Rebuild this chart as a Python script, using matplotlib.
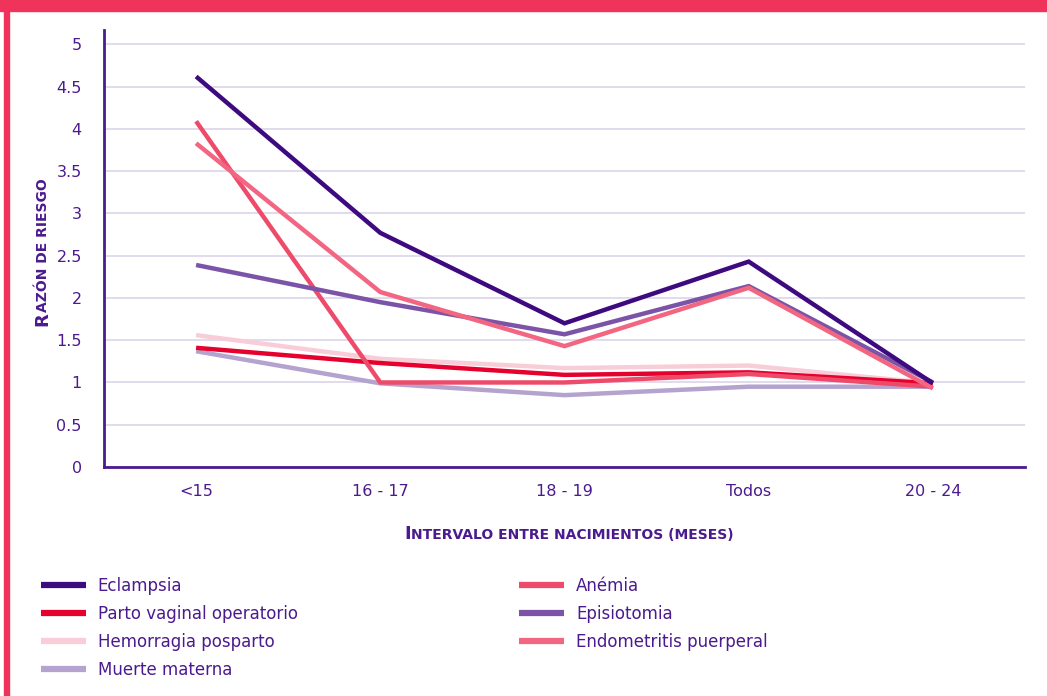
import matplotlib
matplotlib.use("Agg")
import matplotlib.pyplot as plt
from matplotlib.patches import Rectangle

# datos: razon de riesgo por intervalo entre nacimientos
intervalos = ["<15", "16 - 17", "18 - 19", "Todos", "20 - 24"]

eclampsia = [4.62, 2.77, 1.70, 2.43, 0.99]
parto_vaginal = [1.41, 1.23, 1.09, 1.12, 0.99]
hemorragia = [1.56, 1.28, 1.17, 1.20, 0.99]
muerte_materna = [1.37, 0.99, 0.85, 0.95, 0.95]
anemia = [4.09, 1.00, 1.00, 1.10, 0.95]
episiotomia = [2.39, 1.95, 1.57, 2.14, 1.00]
endometritis = [3.83, 2.07, 1.43, 2.12, 0.93]

morado = "#4b1a8e"
rosa_borde = "#f0335b"

plt.rcParams['font.family'] = ['DejaVu Sans']

fig = plt.figure(figsize=(10.47, 6.96), dpi=100)

# marco rosa de la pagina
fig.patches.append(Rectangle((0, 1 - 11/696), 1, 11/696, transform=fig.transFigure,
                             color=rosa_borde, zorder=0))
fig.patches.append(Rectangle((4/1047, 0), 5/1047, 1, transform=fig.transFigure,
                             color=rosa_borde, zorder=0))

ax = fig.add_axes([104/1047, 1 - 467/696, (1025 - 104)/1047, (467 - 30)/696])

x = list(range(len(intervalos)))
series = [
    ("Muerte materna", muerte_materna, "#b4a2cf"),
    ("Hemorragia posparto", hemorragia, "#f8cdd8"),
    ("Parto vaginal operatorio", parto_vaginal, "#e6002d"),
    ("Anémia", anemia, "#ee4b6b"),
    ("Episiotomia", episiotomia, "#7b53a7"),
    ("Endometritis puerperal", endometritis, "#f36681"),
    ("Eclampsia", eclampsia, "#3e0a80"),
]
lineas = {}
for nombre, valores, color in series:
    l, = ax.plot(x, valores, color=color, linewidth=3.2, solid_capstyle="butt",
                 solid_joinstyle="miter", label=nombre)
    lineas[nombre] = l

ax.set_xlim(-0.5, 4.5)
ax.set_ylim(0, 5.17)
ax.set_yticks([0, 0.5, 1, 1.5, 2, 2.5, 3, 3.5, 4, 4.5, 5])
ax.set_yticklabels(["0", "0.5", "1", "1.5", "2", "2.5", "3", "3.5", "4", "4.5", "5"])
ax.set_xticks(x)
ax.set_xticklabels(intervalos)
ax.tick_params(length=0, colors=morado, labelsize=11.5)
ax.tick_params(axis="y", pad=16)
ax.tick_params(axis="x", pad=12)
ax.grid(axis="y", color="#dcd6ea", linewidth=1.2)
ax.set_axisbelow(True)
for lado in ["top", "right"]:
    ax.spines[lado].set_visible(False)
for lado in ["left", "bottom"]:
    ax.spines[lado].set_color(morado)
    ax.spines[lado].set_linewidth(2)

# titulos en versalitas
fig.canvas.draw()
r = fig.canvas.get_renderer()

def versalitas(texto, x0, y0, rot=0):
    t1 = fig.text(x0, y0, texto[0], fontsize=13, color=morado, fontweight="bold",
                  rotation=rot, ha="left", va="baseline", rotation_mode="anchor")
    bb = t1.get_window_extent(renderer=r)
    if rot == 0:
        x1, y1 = x0 + bb.width / fig.bbox.width, y0
    else:
        x1, y1 = x0, y0 + bb.height / fig.bbox.height
    fig.text(x1, y1, texto[1:].upper(), fontsize=10, color=morado, fontweight="bold",
             rotation=rot, ha="left", va="baseline", rotation_mode="anchor")

versalitas("Intervalo entre nacimientos (meses)", 404/1047, 1 - 539/696)
versalitas("Razón de riesgo", 47/1047, 1 - 326/696, rot=90)

orden = ["Eclampsia", "Parto vaginal operatorio", "Hemorragia posparto", "Muerte materna",
         "Anémia", "Episiotomia", "Endometritis puerperal"]
leg = fig.legend([lineas[n] for n in orden], orden, ncol=2, loc="upper left",
                 bbox_to_anchor=(26/1047, 1 - 562/696), frameon=False,
                 fontsize=12, handlelength=2.7, handletextpad=0.7,
                 columnspacing=13.3, labelspacing=0.6)
for lh in leg.get_lines():
    lh.set_linewidth(4.5)
for t in leg.get_texts():
    t.set_color(morado)

fig.savefig("out.png", dpi=100)
